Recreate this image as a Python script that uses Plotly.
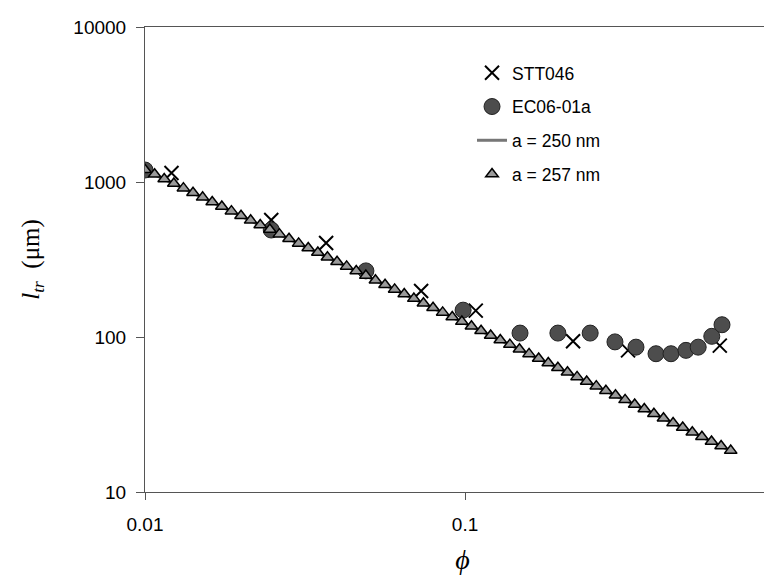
import plotly.graph_objects as go

# STT046 (crosses)
stt_phi = [0.0121, 0.0248, 0.0368, 0.0729, 0.108, 0.2175, 0.323, 0.625]
stt_l = [1143, 569, 404, 198, 148, 94, 82, 88]

# EC06-01a (filled circles)
ec_phi = [0.0100, 0.0248, 0.049, 0.0986, 0.1485, 0.195, 0.246, 0.294, 0.342, 0.395, 0.44, 0.49, 0.535, 0.59, 0.635]
ec_l = [1195, 490, 267, 149, 106, 106, 106, 93, 86, 78, 78, 82, 86, 101, 120]

# model curves (a = 250 nm line, a = 257 nm triangles)
model_phi = [0.01, 0.010715, 0.011482, 0.012303, 0.013183, 0.014125, 0.015136, 0.016218, 0.017378, 0.018621,
             0.019953, 0.021380, 0.022909, 0.024547, 0.026303, 0.028184, 0.030200, 0.032359, 0.034674, 0.037154,
             0.039811, 0.042658, 0.045709, 0.048978, 0.052481, 0.056234, 0.060256, 0.064565, 0.069183, 0.074131,
             0.079433, 0.085114, 0.091201, 0.097724, 0.104713, 0.112202, 0.120226, 0.128825, 0.138038, 0.147911,
             0.158489, 0.169824, 0.181970, 0.194984, 0.208930, 0.223872, 0.239883, 0.257040, 0.275423, 0.295121,
             0.316228, 0.338844, 0.363078, 0.389045, 0.416869, 0.446684, 0.478630, 0.512861, 0.549541, 0.588844,
             0.630957, 0.676083]
a257_l = [1200, 1120.7, 1046.6, 977.5, 912.9, 852.6, 796.2, 743.6, 694.5, 648.6,
          605.7, 565.7, 528.3, 493.4, 460.8, 430.4, 401.8, 375.3, 350.5, 327.3,
          305.7, 285.5, 266.6, 249.0, 232.6, 217.2, 202.8, 189.4, 176.9, 165.2,
          154.3, 144.1, 134.6, 125.7, 117.4, 109.6, 102.3, 95.6, 89.3, 83.4,
          77.8, 72.7, 67.9, 63.4, 59.2, 55.3, 51.6, 48.2, 45.0, 42.1,
          39.3, 36.7, 34.3, 32.0, 29.9, 27.9, 26.1, 24.3, 22.7, 21.2,
          19.8, 18.5]
a250_l = [1195, 1116, 1042, 973, 909, 849, 793, 740, 691, 646,
          603, 563, 526, 491, 459, 428, 400, 374, 349, 326,
          304, 284, 265, 248, 231, 216, 202, 189, 176, 164,
          154, 143, 134, 125, 117, 109, 102, 95.2, 88.9, 83.0,
          77.5, 72.4, 67.6, 63.1, 59.0, 55.1, 51.4, 48.0, 44.8, 41.9,
          39.1, 36.5, 34.1, 31.9, 29.8, 27.8, 26.0, 24.2, 22.6, 21.1,
          19.7, 18.4]

fig = go.Figure()
fig.add_trace(go.Scatter(x=stt_phi, y=stt_l, mode="markers", name="STT046", legendgroup="g1",
                         marker=dict(symbol="x-thin-open", size=14, color="black",
                                     line=dict(width=2, color="black"))))
fig.add_trace(go.Scatter(x=ec_phi, y=ec_l, mode="markers", name="EC06-01a", legendgroup="g2",
                         marker=dict(symbol="circle", size=16, color="#4d4d4d",
                                     line=dict(width=1, color="#222222"))))
fig.add_trace(go.Scatter(x=model_phi, y=a250_l, mode="lines", name="a = 250 nm", legendgroup="g3",
                         line=dict(color="#777777", width=3)))
fig.add_trace(go.Scatter(x=model_phi, y=a257_l, mode="markers", name="a = 257 nm", legendgroup="g4",
                         marker=dict(symbol="triangle-up", size=11, color="#9a9a9a",
                                     line=dict(width=1.5, color="black"))))

fig.update_layout(
    width=772, height=576,
    margin=dict(l=137, r=0, t=19, b=92),
    plot_bgcolor="white", paper_bgcolor="white",
    font=dict(family="Liberation Sans, Arial, sans-serif", size=19, color="black"),
    showlegend=True,
    legend=dict(x=0.515, y=0.94, xanchor="left", yanchor="top",
                bgcolor="rgba(0,0,0,0)", font=dict(size=17.5), tracegroupgap=8),
    xaxis=dict(type="log", range=[-2, -0.016], tickvals=[0.01, 0.1, 1], ticktext=["0.01", "0.1", "1"],
               showgrid=False, zeroline=False, showline=True, linecolor="#555555", linewidth=1,
               mirror=True, ticks="outside", ticklen=7, tickcolor="#555555", automargin=False,
               ticklabelstandoff=8,
               title=dict(text="<i>ϕ</i>", font=dict(family="Liberation Serif, Times New Roman, serif", size=28),
                          standoff=15)),
    yaxis=dict(type="log", range=[1, 4], tickvals=[10, 100, 1000, 10000], ticktext=["10", "100", "1000", "10000"],
               showgrid=False, zeroline=False, showline=True, linecolor="#555555", linewidth=1,
               ticks="outside", ticklen=8, tickcolor="#555555", automargin=False,
               ticklabelstandoff=6,
               title=dict(text="<i>l<sub>tr</sub></i>  (μm)", font=dict(family="Liberation Serif, Times New Roman, serif", size=25),
                          standoff=26)),
)

fig.write_html("out.html")
